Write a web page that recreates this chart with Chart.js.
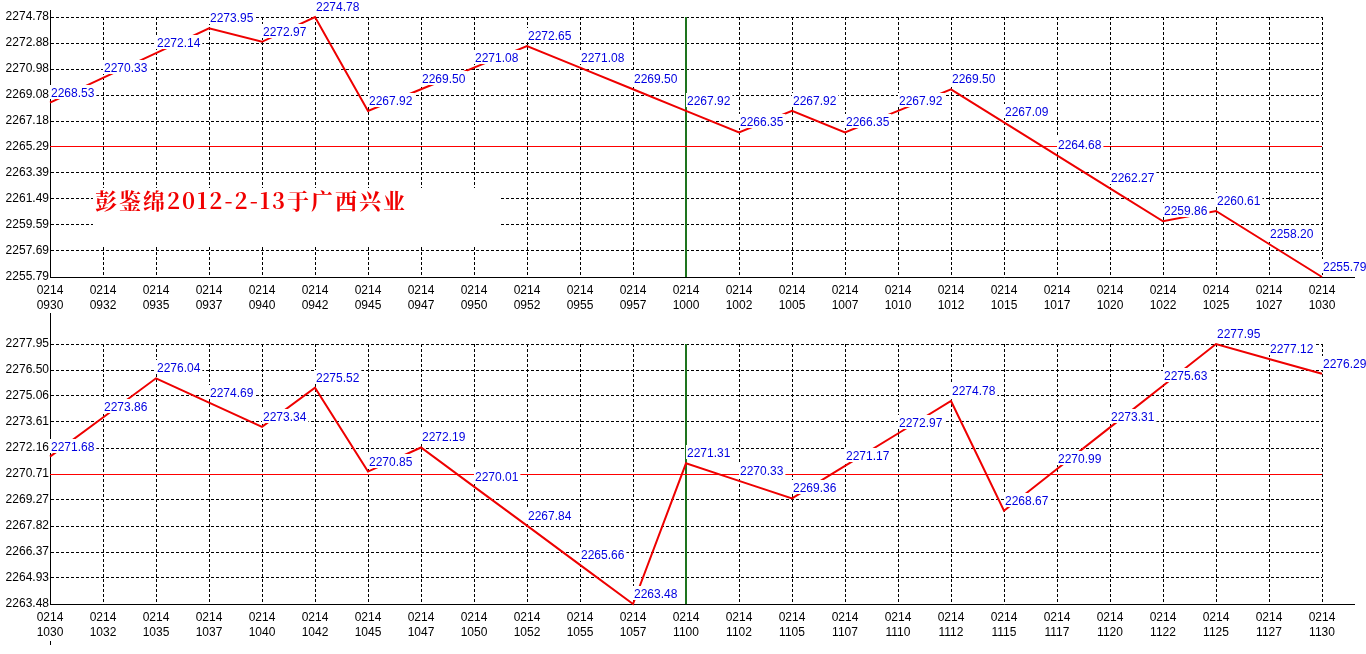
<!DOCTYPE html>
<html><head><meta charset="utf-8">
<script src="https://cdn.jsdelivr.net/npm/chart.js@4.4.0/dist/chart.umd.min.js"></script>
<style>
html,body{margin:0;padding:0;background:#fff;width:1366px;height:654px;overflow:hidden}
canvas{position:absolute;left:0}
#c1{top:0}
#c2{top:310px}
</style></head><body>
<canvas id="c1" width="1366" height="310" style="width:1366px;height:310px"></canvas>
<canvas id="c2" width="1366" height="344" style="width:1366px;height:344px"></canvas>
<script>
const DATE = '0214';
const topTimes = ['0930','0932','0935','0937','0940','0942','0945','0947','0950','0952','0955','0957','1000','1002','1005','1007','1010','1012','1015','1017','1020','1022','1025','1027','1030'];
const topValues = [2268.53,2270.33,2272.14,2273.95,2272.97,2274.78,2267.92,2269.50,2271.08,2272.65,2271.08,2269.50,2267.92,2266.35,2267.92,2266.35,2267.92,2269.50,2267.09,2264.68,2262.27,2259.86,2260.61,2258.20,2255.79];
const topTicks = ['2255.79','2257.69','2259.59','2261.49','2263.39','2265.29','2267.18','2269.08','2270.98','2272.88','2274.78'];
const topRef = 2265.29;
const topMarker = '1000';

const bottomTimes = ['1030','1032','1035','1037','1040','1042','1045','1047','1050','1052','1055','1057','1100','1102','1105','1107','1110','1112','1115','1117','1120','1122','1125','1127','1130'];
const bottomValues = [2271.68,2273.86,2276.04,2274.69,2273.34,2275.52,2270.85,2272.19,2270.01,2267.84,2265.66,2263.48,2271.31,2270.33,2269.36,2271.17,2272.97,2274.78,2268.67,2270.99,2273.31,2275.63,2277.95,2277.12,2276.29];
const bottomTicks = ['2263.48','2264.93','2266.37','2267.82','2269.27','2270.71','2272.16','2273.61','2275.06','2276.50','2277.95'];
const bottomRef = 2270.71;
const bottomMarker = '1100';

const watermark = '彭鉴绵2012-2-13于广西兴业';

const FONT = 'Liberation Sans';

function al(v){ return Math.round(v - 0.5) + 0.5; }

const decor = {
  id: 'decor',
  afterDraw(chart, args, o) {
    const ctx = chart.ctx, a = chart.chartArea;
    ctx.save();
    ctx.strokeStyle = '#000'; ctx.lineWidth = 1;
    const x = al(a.left), yb = al(a.bottom);
    ctx.beginPath();
    ctx.moveTo(x, a.top - o.extTop); ctx.lineTo(x, a.top);
    if (o.extBottom) { ctx.moveTo(x, a.bottom + o.extBottom - 4); ctx.lineTo(x, a.bottom + o.extBottom); }
    ctx.moveTo(a.right, yb); ctx.lineTo(a.right + o.extRight, yb);
    ctx.stroke();
    ctx.restore();
  },
  beforeDatasetsDraw(chart, args, o) {
    const ctx = chart.ctx, a = chart.chartArea;
    const xs = chart.scales.x, ys = chart.scales.y;
    ctx.save();
    if (o.watermark) {
      ctx.fillStyle = '#fff';
      ctx.fillRect(a.left + 43, a.top + 171, 407, 59);
      ctx.fillStyle = '#f00000';
      ctx.font = 'bold 22px "Noto Serif CJK SC", "Noto Sans CJK SC", serif';
      ctx.textBaseline = 'top';
      try { ctx.letterSpacing = '2px'; } catch(e) {}
      ctx.fillText(o.watermark, a.left + 45, a.top + 173);
      try { ctx.letterSpacing = '0px'; } catch(e) {}
    }
    const mx = xs.getPixelForValue(o.markerIndex);
    ctx.strokeStyle = '#1e741e'; ctx.lineWidth = 2;
    ctx.beginPath(); ctx.moveTo(Math.round(mx), a.top); ctx.lineTo(Math.round(mx), a.bottom); ctx.stroke();
    const ry = al(ys.getPixelForValue(o.ref));
    ctx.strokeStyle = '#ff0000'; ctx.lineWidth = 1;
    ctx.beginPath(); ctx.moveTo(a.left, ry); ctx.lineTo(a.right, ry); ctx.stroke();
    ctx.restore();
  },
  afterDatasetsDraw(chart) {
    const ctx = chart.ctx;
    const meta = chart.getDatasetMeta(0);
    const vals = chart.data.datasets[0].data;
    ctx.save();
    ctx.font = '12px "' + FONT + '"';
    ctx.textBaseline = 'alphabetic';
    meta.data.forEach((pt, i) => {
      const t = vals[i].toFixed(2);
      const w = ctx.measureText(t).width;
      const x = Math.round(pt.x), y = Math.round(pt.y);
      ctx.fillStyle = '#fff';
      ctx.fillRect(x, y - 18, w + 3, 14);
      ctx.fillStyle = '#0000e0';
      ctx.fillText(t, x + 1, y - 6);
    });
    ctx.restore();
  }
};

function makeChart(id, times, values, ticks, ref, marker, padTop, xHeight, ext, wm) {
  return new Chart(document.getElementById(id), {
    type: 'line',
    data: {
      labels: times.map(t => [DATE, t]),
      datasets: [{
        data: values,
        borderColor: '#ee0000',
        borderWidth: 2,
        pointRadius: 0,
        tension: 0,
        fill: false,
        clip: 4
      }]
    },
    options: {
      responsive: false,
      devicePixelRatio: 1,
      animation: false,
      layout: { padding: { top: padTop, right: 44, left: 0, bottom: 0 } },
      plugins: {
        legend: { display: false },
        tooltip: { enabled: false },
        decor: { ref: ref, markerIndex: times.indexOf(marker), extTop: ext[0], extBottom: ext[1], extRight: ext[2], watermark: wm }
      },
      scales: {
        x: {
          type: 'category',
          offset: false,
          afterFit: s => { s.height = xHeight; },
          ticks: {
            autoSkip: false, maxRotation: 0, minRotation: 0,
            color: '#000', font: { family: FONT, size: 12, lineHeight: 1.25 },
            padding: 6
          },
          grid: { color: '#000', lineWidth: 1, drawTicks: false, offset: false },
          border: { display: true, color: '#000', width: 1, dash: [3, 2] }
        },
        y: {
          min: +ticks[0], max: +ticks[ticks.length - 1],
          afterBuildTicks: s => { s.ticks = ticks.map(v => ({ value: +v })); },
          afterFit: s => { s.width = 50; },
          ticks: {
            autoSkip: false,
            callback: (v, i) => ticks[i],
            color: '#000', font: { family: FONT, size: 12 }, padding: 1
          },
          grid: { color: '#000', lineWidth: 1, drawTicks: false },
          border: { display: true, color: '#000', width: 1, dash: [3, 2] }
        }
      }
    },
    plugins: [decor]
  });
}

makeChart('c1', topTimes, topValues, topTicks, topRef, topMarker, 17, 33, [7, 0, 33], watermark);
makeChart('c2', bottomTimes, bottomValues, bottomTicks, bottomRef, bottomMarker, 34, 50, [31, 41, 33], null);
</script>
</body></html>
